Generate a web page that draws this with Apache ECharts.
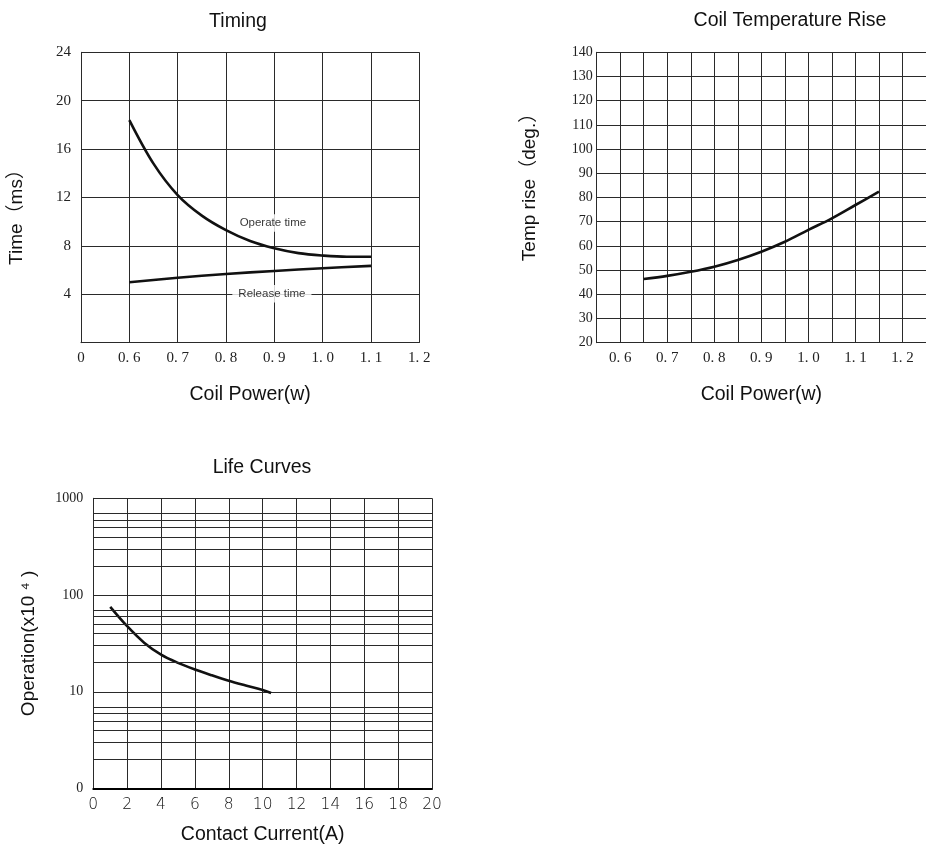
<!DOCTYPE html>
<html>
<head>
<meta charset="utf-8">
<script src="https://cdn.jsdelivr.net/npm/echarts@6/dist/echarts.min.js"></script>
<style>
html,body{margin:0;padding:0;background:#fff;}
#c{width:926px;height:845px;}
</style>
</head>
<body>
<div id="c"></div>
<script>
// ---- Timing ----
var timingX = [0.6, 0.65, 0.7, 0.75, 0.8, 0.85, 0.9, 0.95, 1.0, 1.05, 1.1];
var operateTime = [18.4, 14.8, 12.2, 10.5, 9.3, 8.4, 7.8, 7.4, 7.2, 7.1, 7.1];
var releaseX = [0.6, 0.7, 0.8, 0.9, 1.0, 1.1];
var releaseTime = [5.0, 5.37, 5.68, 5.93, 6.15, 6.35];
var timingNotes = [[0.897, 9.9, 'Operate time'], [0.895, 4.05, 'Release time']];

// ---- Coil Temperature Rise ----
var tempX = [0.65, 0.7, 0.75, 0.8, 0.85, 0.9, 0.95, 1.0, 1.05, 1.1, 1.15];
var tempRise = [46.3, 47.6, 49.3, 51.4, 54.2, 57.6, 61.7, 66.6, 71.4, 76.9, 82.4];

// ---- Life Curves ----
var lifeX = [1, 2, 3, 4, 5, 6, 7, 8, 9, 10, 10.5];
var lifeOps = [75.5, 47.6, 32.2, 24.2, 19.9, 17.0, 14.8, 13.0, 11.6, 10.4, 9.7];
var lifeMinorGrid = [2, 3, 4, 5, 6, 7, 20, 30, 40, 50, 60, 70, 200, 300, 400, 500, 600, 700];

var GRID = '#2a2a2a';
var SERIF = 'Liberation Serif, DejaVu Serif, serif';
var SANS = 'Liberation Sans, Arial, Noto Sans CJK SC, sans-serif';
function tick(v){ var s = v.toFixed(1); return s.replace('.', '. '); }

var chart = echarts.init(document.getElementById('c'), null, {renderer: 'canvas'});
var lineStyleCurve = {color: '#111', width: 2.6};
var titleStyle = {fontFamily: SANS, fontSize: 19.5, fontWeight: 'normal', color: '#111'};
var nameStyle = {fontFamily: SANS, fontSize: 19.5, color: '#111'};

chart.setOption({
  animation: false,
  backgroundColor: '#fff',
  title: [
    {text: 'Timing', left: 233, top: 7, textAlign: 'center', textStyle: titleStyle},
    {text: 'Coil Temperature Rise', left: 785, top: 6, textAlign: 'center', textStyle: titleStyle},
    {text: 'Life Curves', left: 257, top: 453, textAlign: 'center', textStyle: titleStyle}
  ],
  grid: [
    {left: 81, top: 52.3, width: 338.3, height: 290.4},
    {left: 596.7, top: 52.3, width: 338.3, height: 290.4},
    {left: 93.3, top: 498.3, width: 338.7, height: 290.7}
  ],
  xAxis: [
    {gridIndex: 0, type: 'value', min: 0.5, max: 1.2, interval: 0.1,
     name: 'Coil Power(w)', nameLocation: 'middle', nameGap: 42,
     nameTextStyle: nameStyle,
     axisLine: {show: true, lineStyle: {color: GRID, width: 1}},
     axisTick: {show: false},
     axisLabel: {fontFamily: SERIF, fontSize: 15, color: '#222', margin: 8,
       formatter: function(v){ return Math.abs(v - 0.5) < 1e-6 ? '0' : tick(v); }},
     splitLine: {show: true, lineStyle: {color: GRID, width: 1}}},
    {gridIndex: 1, type: 'value', min: 0.55, max: 1.25, interval: 0.05,
     name: 'Coil Power(w)', nameLocation: 'middle', nameGap: 42,
     nameTextStyle: nameStyle,
     axisLine: {show: true, lineStyle: {color: GRID, width: 1}},
     axisTick: {show: false},
     axisLabel: {fontFamily: SERIF, fontSize: 15, color: '#222', margin: 8, showMaxLabel: false,
       formatter: function(v){ var t = v * 10; return Math.abs(t - Math.round(t)) < 1e-6 ? tick(v) : ''; }},
     splitLine: {show: true, lineStyle: {color: GRID, width: 1}}},
    {gridIndex: 2, type: 'value', min: 0, max: 20, interval: 2,
     name: 'Contact Current(A)', nameLocation: 'middle', nameGap: 36,
     nameTextStyle: nameStyle,
     axisLine: {show: true, lineStyle: {color: '#000', width: 2}},
     axisTick: {show: false},
     axisLabel: {fontFamily: 'DejaVu Sans, sans-serif', fontWeight: 200, fontSize: 15.5, color: '#111', margin: 8},
     splitLine: {show: true, lineStyle: {color: GRID, width: 1}}}
  ],
  yAxis: [
    {gridIndex: 0, type: 'value', min: 0, max: 24, interval: 4,
     name: 'Time（ms）', nameLocation: 'middle', nameGap: 55, nameRotate: 90,
     nameTextStyle: {fontFamily: SANS, fontSize: 19, color: '#111', padding: [0, 30, 0, 0]},
     axisLine: {show: true, lineStyle: {color: GRID, width: 1}},
     axisTick: {show: false},
     axisLabel: {fontFamily: SERIF, fontSize: 15, color: '#222', margin: 10,
       formatter: function(v){ return v === 0 ? '' : String(v); }},
     splitLine: {show: true, lineStyle: {color: GRID, width: 1}}},
    {gridIndex: 1, type: 'value', min: 20, max: 140, interval: 10,
     name: 'Temp rise（deg.）', nameLocation: 'middle', nameGap: 57, nameRotate: 90,
     nameTextStyle: {fontFamily: SANS, fontSize: 19, color: '#111', padding: [0, 0, 0, 30]},
     axisLine: {show: true, lineStyle: {color: GRID, width: 1}},
     axisTick: {show: false},
     axisLabel: {fontFamily: SERIF, fontSize: 14, color: '#222', margin: 4},
     splitLine: {show: true, lineStyle: {color: GRID, width: 1}}},
    {gridIndex: 2, type: 'log', logBase: 10, min: 1, max: 1000,
     name: 'Operation(x10 ⁴ )', nameLocation: 'middle', nameGap: 55, nameRotate: 90,
     nameTextStyle: {fontFamily: SANS, fontSize: 19, color: '#111'},
     axisLine: {show: true, lineStyle: {color: GRID, width: 1}},
     axisTick: {show: false},
     axisLabel: {fontFamily: SERIF, fontSize: 14, color: '#222', margin: 10,
       formatter: function(v){ return v === 1 ? '0' : String(v); }},
     splitLine: {show: true, lineStyle: {color: GRID, width: 1}}}
  ],
  series: [
    {type: 'line', xAxisIndex: 0, yAxisIndex: 0, smooth: 0.35, showSymbol: false,
     data: timingX.map(function(x, i){ return [x, operateTime[i]]; }), lineStyle: lineStyleCurve, z: 3},
    {type: 'line', xAxisIndex: 0, yAxisIndex: 0, smooth: 0.35, showSymbol: false,
     data: releaseX.map(function(x, i){ return [x, releaseTime[i]]; }), lineStyle: lineStyleCurve, z: 3},
    {type: 'scatter', xAxisIndex: 0, yAxisIndex: 0, symbolSize: 0, z: 5,
     data: timingNotes.map(function(d){ return {value: [d[0], d[1]], name: d[2]}; }),
     label: {show: true, position: 'inside', formatter: '{b}', fontFamily: SANS, fontSize: 11.5, color: '#000',
       backgroundColor: '#fff', padding: [3, 6]}},
    {type: 'line', xAxisIndex: 1, yAxisIndex: 1, smooth: 0.35, showSymbol: false,
     data: tempX.map(function(x, i){ return [x, tempRise[i]]; }), lineStyle: lineStyleCurve, z: 3},
    {type: 'line', xAxisIndex: 2, yAxisIndex: 2, smooth: 0.35, showSymbol: false,
     data: lifeX.map(function(x, i){ return [x, lifeOps[i]]; }), lineStyle: lineStyleCurve, z: 3,
     markLine: {silent: true, symbol: 'none', animation: false, label: {show: false},
       lineStyle: {color: GRID, width: 1, type: 'solid'},
       data: lifeMinorGrid.map(function(v){ return {yAxis: v}; })}}
  ]
});
</script>
</body>
</html>
